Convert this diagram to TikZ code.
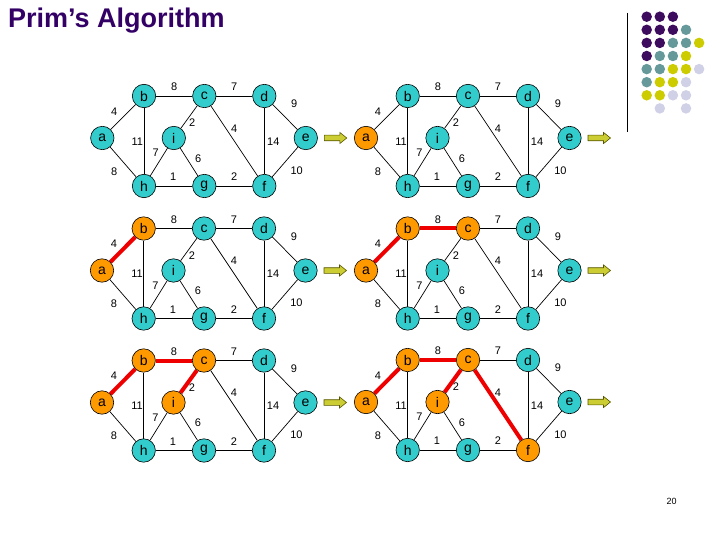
\documentclass[tikz,border=0pt]{standalone}
\usepackage{fontspec}
\setmainfont{Liberation Sans}
\usetikzlibrary{backgrounds}
\definecolor{titlepurple}{HTML}{330066}
\definecolor{nodeteal}{HTML}{33CCCC}
\definecolor{nodeorange}{HTML}{FF9900}
\definecolor{edgered}{HTML}{EE0000}
\definecolor{arrowfill}{HTML}{CCCC33}
\definecolor{arrowline}{HTML}{555500}
\definecolor{dotP}{HTML}{3D0C5E}
\definecolor{dotT}{HTML}{669999}
\definecolor{dotY}{HTML}{CCCC00}
\definecolor{dotL}{HTML}{D0D0E6}
\tikzset{
  vbase/.style={circle,draw=black,line width=0.6pt,minimum size=23.4pt,inner sep=0pt,font=\fontsize{14}{14}\selectfont},
  vteal/.style={vbase,fill=nodeteal},
  vorange/.style={vbase,fill=nodeorange},
  eplain/.style={draw=black,line width=0.7pt},
  ered/.style={draw=edgered,line width=4pt},
  wlabel/.style={inner sep=0pt,font=\fontsize{11}{11}\selectfont},
  moveon/.style={draw=arrowline,fill=arrowfill,line width=0.6pt},
  dotstyle/.style={circle,inner sep=0pt,minimum size=10.5pt}
}
\newcommand\primpanel[4]{%
\begin{scope}[shift={(#2,#3)}]
 \tikzset{stA/.style={vteal},stB/.style={vteal},stC/.style={vteal},stI/.style={vteal},stF/.style={vteal},
   eAB/.style={eplain},eBC/.style={eplain},eCI/.style={eplain},eCF/.style={eplain}}%
 \ifnum#4>0 \tikzset{stA/.style={vorange}}\fi
 \ifnum#4>1 \tikzset{stB/.style={vorange},eAB/.style={ered}}\fi
 \ifnum#4>2 \tikzset{stC/.style={vorange},eBC/.style={ered}}\fi
 \ifnum#4>3 \tikzset{stI/.style={vorange},eCI/.style={ered}}\fi
 \ifnum#4>4 \tikzset{stF/.style={vorange},eCF/.style={ered}}\fi
 \node[stA] (#1a) at (0,0) {a};
 \node[stB] (#1b) at (41.7,-42) {b};
 \node[stC] (#1c) at (102,-42) {c};
 \node[vteal] (#1d) at (162,-42) {d};
 \node[stI] (#1i) at (71.5,0) {i};
 \node[vteal] (#1e) at (203.5,0) {e};
 \node[vteal] (#1h) at (41.7,48) {h};
 \node[vteal] (#1g) at (102,48) {g};
 \node[stF] (#1f) at (162,48) {f};
 \begin{pgfonlayer}{background}
  \path[eAB] (#1a) -- (#1b);
  \path[eplain] (#1a) -- (#1h);
  \path[eBC] (#1b) -- (#1c);
  \path[eplain] (#1b) -- (#1h);
  \path[eplain] (#1c) -- (#1d);
  \path[eCI] (#1c) -- (#1i);
  \path[eCF] (#1c) -- (#1f);
  \path[eplain] (#1d) -- (#1e);
  \path[eplain] (#1d) -- (#1f);
  \path[eplain] (#1i) -- (#1h);
  \path[eplain] (#1i) -- (#1g);
  \path[eplain] (#1h) -- (#1g);
  \path[eplain] (#1g) -- (#1f);
  \path[eplain] (#1e) -- (#1f);
 \end{pgfonlayer}
 \node[wlabel] (#1lbc) at (72,-51) {8};
 \node[wlabel] (#1lcd) at (132,-51) {7};
 \node[wlabel] (#1lab) at (12,-26.7) {4};
 \node[wlabel] (#1lde) at (192,-34) {9};
 \node[wlabel] (#1lci) at (90,-15) {2};
 \node[wlabel] (#1lcf) at (132,-9.4) {4};
 \node[wlabel] (#1lbh) at (35,3.3) {11};
 \node[wlabel] (#1ldf) at (171,3.3) {14};
 \node[wlabel] (#1lhi) at (53.4,15) {7};
 \node[wlabel] (#1lig) at (96,20.6) {6};
 \node[wlabel] (#1lah) at (12,33.3) {8};
 \node[wlabel] (#1lhg) at (71,39) {1};
 \node[wlabel] (#1lgf) at (132,39) {2};
 \node[wlabel] (#1lef) at (194.4,32.5) {10};
 \path[moveon] (222,-2.8) -- (237.5,-2.8) -- (237.5,-5.6) -- (244.5,0) -- (237.5,5.6) -- (237.5,2.8) -- (222,2.8) -- cycle;
\end{scope}}
\begin{document}
\begin{tikzpicture}[x=1pt,y=-1pt]
\useasboundingbox (0,0) rectangle (720,540);
\node[anchor=base west,inner sep=0pt,text=titlepurple,font=\bfseries\fontsize{27}{27}\selectfont] (title) at (8,27.7) {Prim’s Algorithm};
\draw[line width=0.8pt] (627.3,13) -- (627.3,131.7);
% dots
\foreach \c/\r/\col [count=\k] in {1/1/dotP,2/1/dotP,3/1/dotP,
  1/2/dotP,2/2/dotP,3/2/dotP,4/2/dotT,
  1/3/dotP,2/3/dotP,3/3/dotT,4/3/dotT,5/3/dotY,
  1/4/dotP,2/4/dotT,3/4/dotT,4/4/dotY,
  1/5/dotT,2/5/dotT,3/5/dotY,4/5/dotY,5/5/dotL,
  1/6/dotT,2/6/dotY,3/6/dotY,4/6/dotL,
  1/7/dotY,2/7/dotY,3/7/dotL,4/7/dotL,
  2/8/dotL,4/8/dotL}
  \node[dotstyle,fill=\col] (dot\k) at ({646.7+13.1*(\c-1)},{16.7+13.1*(\r-1)}) {};
\primpanel{p0}{102.3}{138}{0}
\primpanel{p1}{366}{138}{1}
\primpanel{p2}{102}{270.5}{2}
\primpanel{p3}{366}{270.5}{3}
\primpanel{p4}{102}{402.5}{4}
\primpanel{p5}{366}{402}{5}
\node[inner sep=0pt,font=\fontsize{9}{9}\selectfont] (pagenum) at (671.7,501.7) {20};
\end{tikzpicture}
\end{document}
